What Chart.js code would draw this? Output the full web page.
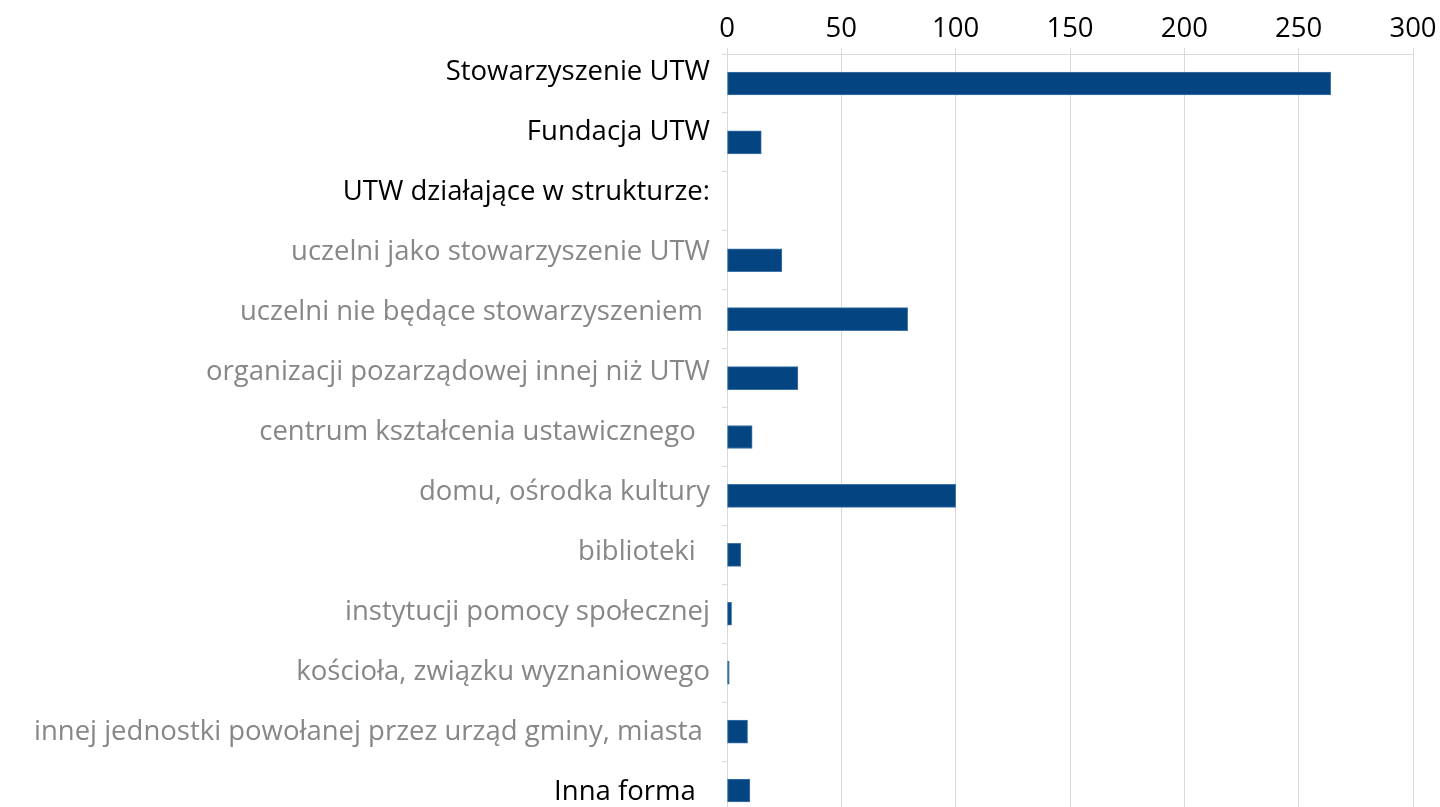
<!DOCTYPE html>
<html>
<head>
<meta charset="utf-8">
<script src="https://cdn.jsdelivr.net/npm/chart.js@4"></script>
<style>
  html, body { margin: 0; padding: 0; background: #fff; overflow: hidden; }
</style>
</head>
<body>
<canvas id="wykres" width="1440" height="822"></canvas>
<script>
// Dane wykresu
const kategorie = [
    'Stowarzyszenie UTW',
    'Fundacja UTW',
    'UTW działające w strukturze:',
    'uczelni jako stowarzyszenie UTW',
    'uczelni nie będące stowarzyszeniem ',
    'organizacji pozarządowej innej niż UTW',
    'centrum kształcenia ustawicznego  ',
    'domu, ośrodka kultury',
    'biblioteki  ',
    'instytucji pomocy społecznej',
    'kościoła, związku wyznaniowego',
    'innej jednostki powołanej przez urząd gminy, miasta ',
    'Inna forma  '
];
const liczbaUTW = [264, 15, 0, 24, 79, 31, 11, 100, 6, 2, 1, 9, 10];
const etykietyCzarne = [0, 1, 2, 12]; // pozostałe etykiety są szare
const osX = { min: 0, max: 300, krok: 50 };

const czcionka = { family: 'Open Sans', size: 27.5 };

const ctx = document.getElementById('wykres').getContext('2d');

// Etykiety kategorii są w oryginale rozstawione nieco rzadziej niż słupki,
// więc rysuje je osobna oś 'etykiety' (liniowa, odwrócona), a oś 'y' daje tylko kreski
const wykres = new Chart(ctx, {
    type: 'bar',
    data: {
        labels: kategorie,
        datasets: [{
            label: 'Liczba UTW',
            data: liczbaUTW,
            backgroundColor: '#044581',
            borderColor: '#3f74aa',
            borderWidth: 1,
            borderSkipped: false,
            barThickness: 23
        }]
    },
    options: {
        indexAxis: 'y',
        responsive: false,
        animation: false,
        layout: { padding: { top: 4, right: 27, bottom: 2, left: 0 } },
        plugins: {
            legend: { display: false },
            tooltip: { enabled: false }
        },
        scales: {
            x: {
                position: 'top',
                min: osX.min,
                max: osX.max,
                afterFit: (os) => { os.height = 50; },
                ticks: {
                    stepSize: osX.krok,
                    color: '#000',
                    padding: 2,
                    font: czcionka
                },
                grid: { color: '#d9d9d9', tickLength: 6, lineWidth: 1 },
                border: { color: '#d9d9d9' }
            },
            y: {
                position: 'left',
                weight: 0,
                afterFit: (os) => {
                    os.width = 5;
                    os.paddingTop = 0;
                    os.paddingBottom = 0;
                },
                ticks: { display: false },
                grid: { drawOnChartArea: false, color: '#d9d9d9', tickLength: 5 },
                border: { color: '#d9d9d9' }
            },
            etykiety: {
                type: 'linear',
                position: 'left',
                weight: 1,
                reverse: true,
                offset: false,
                bounds: 'data',
                min: -0.308,
                max: 12.458,
                afterBuildTicks: (os) => {
                    os.ticks = kategorie.map((k, i) => ({ value: i }));
                },
                afterFit: (os) => {
                    os.width = 722;
                    os.paddingTop = 0;
                    os.paddingBottom = 0;
                },
                ticks: {
                    callback: (v, i) => kategorie[i],
                    color: (c) => etykietyCzarne.includes(c.index) ? '#000' : '#878787',
                    padding: 12,
                    font: czcionka
                },
                grid: { display: false, drawTicks: false, offset: false },
                border: { display: false }
            }
        }
    }
});
</script>
</body>
</html>
